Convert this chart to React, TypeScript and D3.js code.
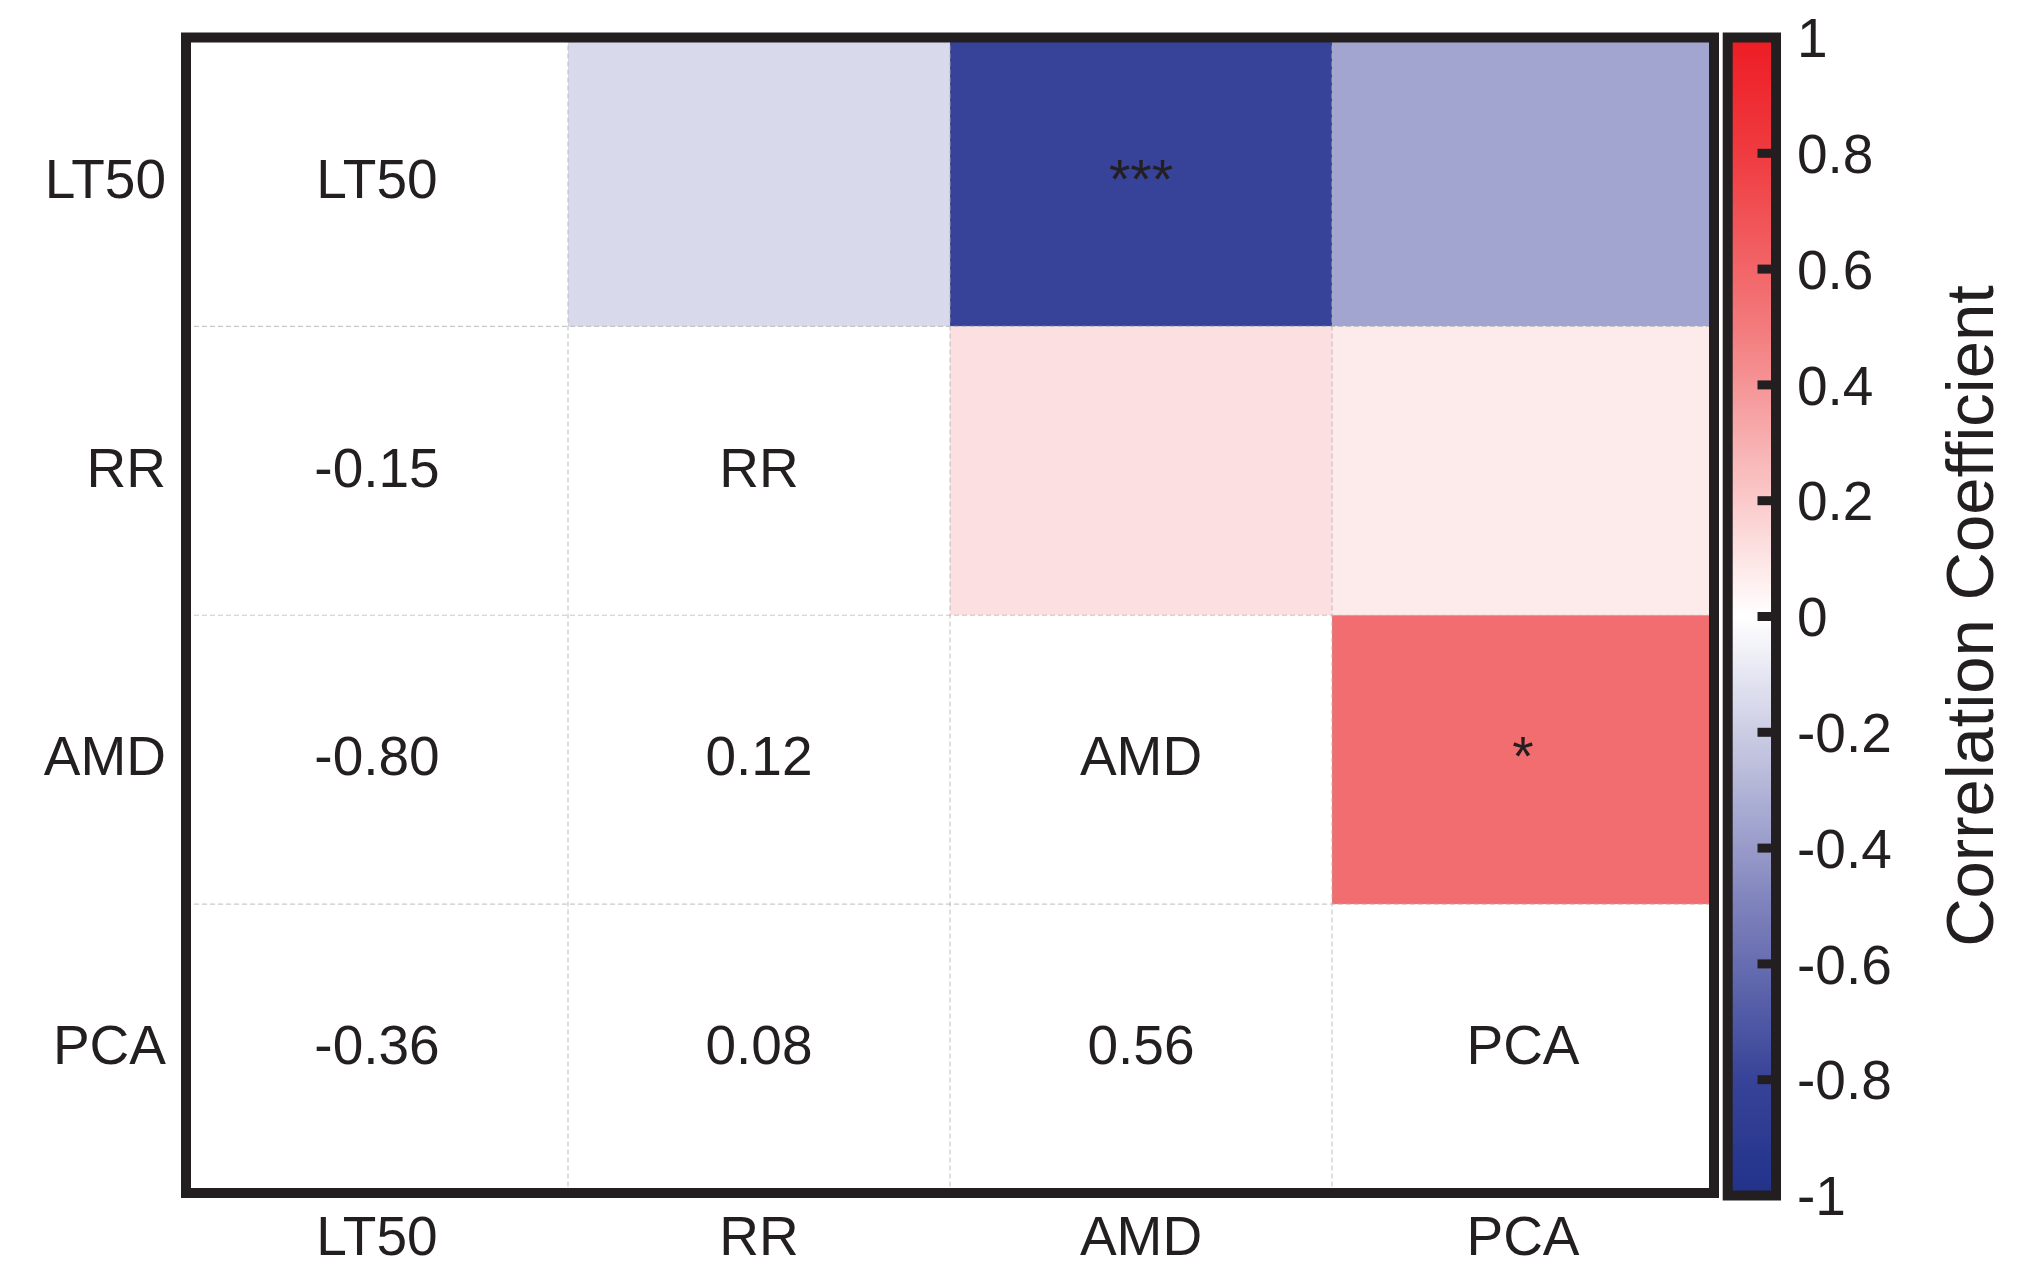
import React from "react";
import * as d3 from "d3";

const variables = ["LT50", "RR", "AMD", "PCA"];
// correlation pairs (row variable, column variable, r, significance)
const pairRow = ["LT50", "LT50", "LT50", "RR", "RR", "AMD"];
const pairCol = ["RR", "AMD", "PCA", "AMD", "PCA", "PCA"];
const pairR = [-0.15, -0.8, -0.36, 0.12, 0.08, 0.56];
const pairSig = ["", "***", "", "", "", "*"];

const colorStops = [-1, -0.8, -0.5, 0, 0.5, 0.8, 1];
const colorValues = ["#22328a", "#374398", "#7e82bc", "#ffffff", "#f37a7c", "#ef3b40", "#ed1c24"];
const cbTicks = [-1, -0.8, -0.6, -0.4, -0.2, 0, 0.2, 0.4, 0.6, 0.8, 1];
const cbTitle = "Correlation Coefficient";

const W = 2026;
const H = 1287;
const INK = "#231f20";
const FONT = "'Liberation Sans', Arial, Helvetica, sans-serif";

const fmt2 = (v: number) => d3.format(".2f")(v).replace("\u2212", "-");
const fmtTick = (v: number) => (Math.abs(v) < 1e-9 ? "0" : String(+v.toFixed(1)));

export default function App() {
  const plot = { x0: 186, x1: 1714, y0: 37.5, y1: 1193 };
  const x = d3.scaleBand<string>().domain(variables).range([plot.x0, plot.x1]).padding(0);
  const y = d3.scaleBand<string>().domain(variables).range([plot.y0, plot.y1]).padding(0);
  const color = d3.scaleLinear<string>().domain(colorStops).range(colorValues).interpolate(d3.interpolateRgb).clamp(true);

  const cb = { x0: 1727.7, x1: 1776, y0: 37.5, y1: 1195.5 };
  const cbScale = d3.scaleLinear().domain([-1, 1]).range([cb.y1, cb.y0]);

  const fs = 55;
  const capShift = fs * 0.358;
  const rowShift = capShift - 4;
  const bw = x.bandwidth();
  const bh = y.bandwidth();

  const gradStops = d3.range(0, 101).map((i) => {
    const v = 1 - (i / 100) * 2;
    return { offset: i, c: color(v) };
  });

  const cellTexts: { xv: string; yv: string; text: string }[] = [];
  variables.forEach((v) => cellTexts.push({ xv: v, yv: v, text: v }));
  pairR.forEach((r, i) => {
    cellTexts.push({ xv: pairRow[i], yv: pairCol[i], text: fmt2(r) });
    if (pairSig[i]) cellTexts.push({ xv: pairCol[i], yv: pairRow[i], text: pairSig[i] });
  });

  return (
    <svg width={W} height={H} style={{ position: "absolute", left: 0, top: 0, background: "#fff" }} fontFamily={FONT}>
      <defs>
        <linearGradient id="cbgrad" x1="0" y1="0" x2="0" y2="1">
          {gradStops.map((s) => (
            <stop key={s.offset} offset={`${s.offset}%`} stopColor={s.c} />
          ))}
        </linearGradient>
      </defs>
      {/* colored upper-triangle cells */}
      {pairR.map((r, i) => (
        <rect
          key={"c" + i}
          x={x(pairCol[i])}
          y={y(pairRow[i])}
          width={bw}
          height={bh}
          fill={color(r)}
        />
      ))}
      {/* grid */}
      {variables.slice(1).map((v) => (
        <g key={"g" + v}>
          <line x1={x(v)} x2={x(v)} y1={plot.y0} y2={plot.y1} stroke="#b4b4b4" strokeOpacity={0.7} strokeWidth={1.2} strokeDasharray="5,3" />
          <line x1={plot.x0} x2={plot.x1} y1={y(v)} y2={y(v)} stroke="#b4b4b4" strokeOpacity={0.7} strokeWidth={1.2} strokeDasharray="5,3" />
        </g>
      ))}
      {/* cell texts */}
      {cellTexts.map((t, i) => (
        <text
          key={"t" + i}
          x={(x(t.xv) as number) + bw / 2}
          y={(y(t.yv) as number) + bh / 2 + rowShift}
          textAnchor="middle"
          fontSize={fs}
          fill={INK}
        >
          {t.text}
        </text>
      ))}
      {/* frame */}
      <rect x={plot.x0} y={plot.y0} width={plot.x1 - plot.x0} height={plot.y1 - plot.y0} fill="none" stroke={INK} strokeWidth={10} />
      {/* row labels */}
      {variables.map((v) => (
        <text key={"r" + v} x={166} y={(y(v) as number) + bh / 2 + rowShift} textAnchor="end" fontSize={fs} fill={INK}>
          {v}
        </text>
      ))}
      {/* column labels */}
      {variables.map((v) => (
        <text key={"cl" + v} x={(x(v) as number) + bw / 2} y={1235 + capShift} textAnchor="middle" fontSize={fs} fill={INK}>
          {v}
        </text>
      ))}
      {/* colorbar */}
      <rect x={cb.x0} y={cb.y0} width={cb.x1 - cb.x0} height={cb.y1 - cb.y0} fill="url(#cbgrad)" />
      {cbTicks.map((t) => (
        <line key={"k" + t} x1={1757.5} x2={cb.x1} y1={cbScale(t)} y2={cbScale(t)} stroke={INK} strokeWidth={9} />
      ))}
      <rect x={cb.x0} y={cb.y0} width={cb.x1 - cb.x0} height={cb.y1 - cb.y0} fill="none" stroke={INK} strokeWidth={10} />
      {cbTicks.map((t) => (
        <text key={"kl" + t} x={1797} y={cbScale(t) + capShift} fontSize={fs} fill={INK}>
          {fmtTick(t)}
        </text>
      ))}
      <text
        transform={`translate(1993,616) rotate(-90)`}
        textAnchor="middle"
        fontSize={67}
        fill={INK}
      >
        {cbTitle}
      </text>
    </svg>
  );
}
